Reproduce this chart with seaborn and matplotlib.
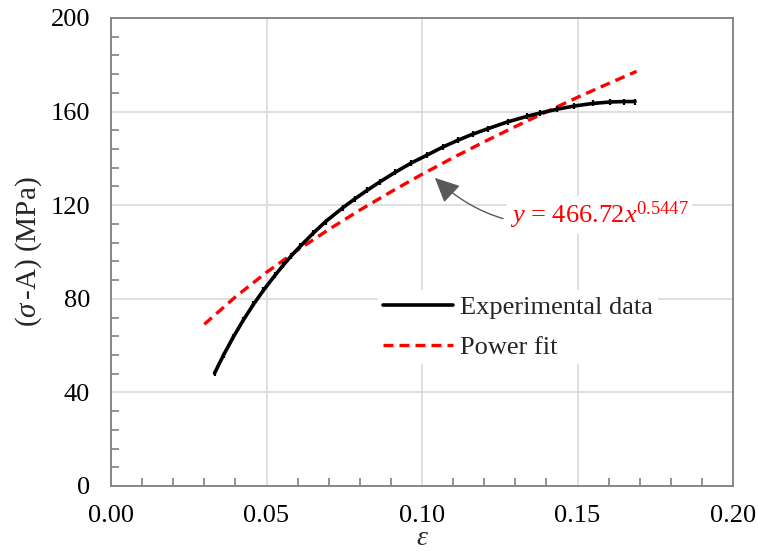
import matplotlib
matplotlib.use("Agg")
import matplotlib.pyplot as plt
import seaborn as sns
import pandas as pd
from matplotlib.ticker import MultipleLocator, FormatStrFormatter

exp_strain = [0.0333, 0.0362, 0.0393, 0.0425, 0.0458, 0.0490, 0.0527, 0.0554, 0.0580, 0.0608,
              0.0650, 0.0690, 0.0746, 0.0785, 0.0823, 0.0865, 0.0913, 0.0965, 0.1016, 0.1066,
              0.1116, 0.1164, 0.1212, 0.1275, 0.1338, 0.1380, 0.1434, 0.1490, 0.1550, 0.1605,
              0.1650, 0.1685]
exp_stress = [48.2, 56.0, 63.6, 70.8, 77.6, 83.6, 90.0, 94.4, 98.4, 102.4,
              108.0, 113.0, 119.0, 122.8, 126.3, 130.0, 134.0, 138.0, 141.4, 144.8,
              147.8, 150.4, 152.7, 155.6, 158.0, 159.4, 161.0, 162.4, 163.5, 164.1,
              164.3, 164.3]

# Power fit line values
fit_strain = [0.030, 0.040, 0.050, 0.060, 0.070, 0.080, 0.090, 0.100, 0.110, 0.120,
              0.130, 0.140, 0.150, 0.160, 0.169]
fit_stress = [69.1, 80.8, 91.3, 100.8, 109.6, 117.9, 125.7, 133.2, 140.3, 147.1,
              153.6, 159.9, 166.1, 172.0, 177.2]

series_labels = ["Experimental data", "Power fit"]
equation_label = r"$\mathit{y}$ = 466.72$\mathit{x}^{0.5447}$"

sns.set_theme(style="white")
plt.rcParams["font.family"] = ["Liberation Serif", "DejaVu Serif"]
plt.rcParams["mathtext.fontset"] = "custom"
plt.rcParams["mathtext.rm"] = "Liberation Serif"
plt.rcParams["mathtext.it"] = "Liberation Serif:italic"

fig = plt.figure(figsize=(7.58, 5.51), dpi=100)
ax = fig.add_axes([111/758, 1-486/551, (733-111)/758, (486-18)/551])

df_exp = pd.DataFrame({"x": exp_strain, "y": exp_stress})
df_fit = pd.DataFrame({"x": fit_strain, "y": fit_stress})

sns.lineplot(data=df_exp, x="x", y="y", ax=ax, color="black", lw=2.6,
             marker="|", markersize=5, markeredgewidth=1.6, markeredgecolor="black",
             label=series_labels[0], sort=False, zorder=4)
sns.lineplot(data=df_fit, x="x", y="y", ax=ax, color="#ff0000", lw=2.4,
             linestyle=(0, (3, 1.8)), label=series_labels[1], sort=False, zorder=3)

ax.set_xlim(0, 0.20)
ax.set_ylim(0, 200)
ax.xaxis.set_major_locator(MultipleLocator(0.05))
ax.xaxis.set_minor_locator(MultipleLocator(0.01))
ax.yaxis.set_major_locator(MultipleLocator(40))
ax.yaxis.set_minor_locator(MultipleLocator(8))
ax.xaxis.set_major_formatter(FormatStrFormatter("%.2f"))

ax.grid(True, which="major", color="#d9d9d9", lw=1.2)
ax.set_axisbelow(True)
for s in ax.spines.values():
    s.set_color("#7f7f7f")
    s.set_linewidth(1.3)
ax.tick_params(which="both", direction="in", color="#7f7f7f", width=1.2,
               labelsize=19, labelcolor="black", bottom=True, left=True)
ax.tick_params(which="major", length=0)
ax.tick_params(axis="x", which="major", pad=14)
ax.tick_params(axis="y", which="major", pad=15)
ax.tick_params(which="minor", length=6)

ax.set_xlabel(r"$\mathit{\varepsilon}$", fontsize=20, labelpad=-1)
ax.set_ylabel(r"($\mathit{\sigma}\,$-A) (MPa)", fontsize=21, labelpad=5)

leg = ax.legend(loc="upper left", bbox_to_anchor=(0.429, 0.418), frameon=True,
                fontsize=19, handlelength=2.65, handletextpad=0.25,
                borderpad=0.2, labelspacing=0.62, borderaxespad=0)
leg.get_frame().set_facecolor("white")
leg.get_frame().set_edgecolor("none")
leg.get_frame().set_alpha(1.0)
leg.set_zorder(6)
for h in leg.legend_handles:
    h.set_marker("")

ax.annotate(equation_label, xy=(0.1035, 132.5), xytext=(0.1283, 115.8),
            fontsize=19, color="#ff0000", va="center", ha="left",
            bbox=dict(facecolor="white", edgecolor="none", pad=2),
            arrowprops=dict(arrowstyle="-|>,head_length=0.8,head_width=0.38",
                            color="#595959", lw=1.0,
                            connectionstyle="arc3,rad=-0.3",
                            shrinkA=3, shrinkB=2), zorder=5)

fig.savefig("out.png", dpi=100)
